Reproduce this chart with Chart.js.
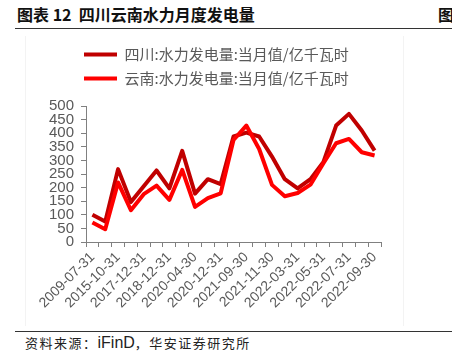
<!DOCTYPE html>
<html>
<head>
<meta charset="utf-8">
<title>四川云南水力月度发电量</title>
<script src="https://cdn.jsdelivr.net/npm/chart.js@4.4.1/dist/chart.umd.min.js"></script>
<style>
    html, body {
        margin: 0;
        padding: 0;
        background: #ffffff;
    }

    body {
        position: relative;
        width: 452px;
        height: 359px;
        overflow: hidden;
    }

    .report-title {
        position: absolute;
        left: 17px;
        top: 4px;
        font-family: "Noto Sans CJK SC", sans-serif;
        font-weight: bold;
        font-size: 16px;
        line-height: 20px;
        color: #111111;
        white-space: nowrap;
    }

    .report-title-next {
        position: absolute;
        left: 438px;
        top: 4px;
        font-family: "Noto Sans CJK SC", sans-serif;
        font-weight: bold;
        font-size: 16px;
        line-height: 20px;
        color: #111111;
    }

    .rule {
        position: absolute;
        left: 15px;
        width: 437px;
        height: 1px;
        background: #333333;
    }

    .frame-line {
        position: absolute;
        top: 36px;
        width: 1px;
        height: 290px;
        background: #f3f3f3;
    }

    .chart-wrap {
        position: absolute;
        left: 0;
        top: 38px;
        width: 452px;
        height: 290px;
    }

    .source {
        position: absolute;
        left: 25px;
        top: 334px;
        font-family: "Noto Sans CJK SC", sans-serif;
        font-size: 13px;
        letter-spacing: 1.5px;
        line-height: 18px;
        color: #222222;
        white-space: nowrap;
    }

    .source .latin {
        font-family: "Liberation Sans", Arial, sans-serif;
        font-size: 16px;
        letter-spacing: 0;
    }
</style>
</head>
<body>
<div class="report-title">图表 12&nbsp; 四川云南水力月度发电量</div>
<div class="report-title-next">图</div>
<div class="rule" style="top: 28px;"></div>
<div class="frame-line" style="left: 25px;"></div>
<div class="frame-line" style="left: 403px;"></div>
<div class="chart-wrap"><canvas id="hydro-chart"></canvas></div>
<div class="rule" style="top: 331px;"></div>
<div class="source">资料来源：<span class="latin">iFinD</span>，华安证券研究所</div>

<script>
var categories = [
    "2009-07-31", "2013-08-31", "2015-10-31", "2016-08-31", "2017-12-31", "2018-06-30",
    "2018-12-31", "2019-08-31", "2020-04-30", "2020-08-31", "2020-12-31", "2021-08-31",
    "2021-09-30", "2021-10-31", "2021-11-30", "2022-01-31", "2022-03-31", "2022-04-30",
    "2022-05-31", "2022-06-30", "2022-07-31", "2022-08-31", "2022-09-30"
];
var sichuanValues = [100, 75, 268, 147, 205, 263, 197, 335, 178, 231, 213, 388, 402, 388, 314, 231, 197, 231, 293, 428, 471, 410, 336];
var yunnanValues = [72, 47, 219, 117, 176, 207, 155, 265, 129, 161, 179, 375, 428, 342, 210, 168, 180, 211, 289, 363, 379, 330, 318];
var seriesNames = ["四川:水力发电量:当月值/亿千瓦时", "云南:水力发电量:当月值/亿千瓦时"];
var yTicks = [0, 50, 100, 150, 200, 250, 300, 350, 400, 450, 500];

(function () {
    "use strict";

    var axisColor = "#808080";
    var textColor = "#595959";
    var legendLeft = 75;
    var legendLift = 10;

    function legendLabels(chart) {
        var items = Chart.defaults.plugins.legend.labels.generateLabels(chart);

        items.forEach(function (item) {
            item.fillStyle = item.strokeStyle;
            item.lineWidth = 0;
        });

        return items;
    }

    // keep the legend where the report puts it, independent of the y axis width
    var legendPlacement = {
        id: "legendPlacement",
        afterLayout: function (chart) {
            if (!chart.legend) {
                return;
            }

            chart.legend.left = legendLeft;
            chart.legend.top -= legendLift;
        }
    };

    function buildChart() {
        var canvas = document.getElementById("hydro-chart");

        return new Chart(canvas.getContext("2d"), {
            type: "line",
            data: {
                labels: categories,
                datasets: [
                    {
                        label: seriesNames[0],
                        data: sichuanValues,
                        borderColor: "#C00000",
                        backgroundColor: "#C00000",
                        borderWidth: 4,
                        pointRadius: 0,
                        tension: 0,
                        borderJoinStyle: "round",
                        order: 1
                    },
                    {
                        label: seriesNames[1],
                        data: yunnanValues,
                        borderColor: "#FF0000",
                        backgroundColor: "#FF0000",
                        borderWidth: 4,
                        pointRadius: 0,
                        tension: 0,
                        borderJoinStyle: "round",
                        order: 0
                    }
                ]
            },
            plugins: [legendPlacement],
            options: {
                responsive: true,
                maintainAspectRatio: false,
                animation: false,
                events: [],
                layout: {
                    padding: {
                        left: 40,
                        right: 71,
                        top: legendLift,
                        bottom: 0
                    }
                },
                plugins: {
                    legend: {
                        display: true,
                        position: "top",
                        align: "start",
                        labels: {
                            boxWidth: 33,
                            boxHeight: 4,
                            padding: 9,
                            color: textColor,
                            font: {
                                family: "'Noto Sans CJK SC', sans-serif",
                                size: 15
                            },
                            generateLabels: legendLabels,
                            sort: function (a, b) {
                                return a.datasetIndex - b.datasetIndex;
                            }
                        }
                    },
                    tooltip: {
                        enabled: false
                    }
                },
                scales: {
                    x: {
                        offset: true,
                        grid: {
                            offset: true,
                            drawOnChartArea: false,
                            drawTicks: true,
                            tickLength: 5,
                            color: axisColor
                        },
                        border: {
                            display: true,
                            color: axisColor,
                            width: 1
                        },
                        ticks: {
                            autoSkip: false,
                            minRotation: 45,
                            maxRotation: 45,
                            padding: 2,
                            color: textColor,
                            font: {
                                family: "'Liberation Sans', Arial, sans-serif",
                                size: 14
                            },
                            callback: function (value, index) {
                                return index % 2 === 0 ? categories[index] : "";
                            }
                        },
                        afterFit: function (scale) {
                            scale.height = 86;
                            scale.paddingLeft = 0;
                            scale.paddingRight = 0;
                        }
                    },
                    y: {
                        min: 0,
                        max: 500,
                        afterBuildTicks: function (scale) {
                            scale.ticks = yTicks.map(function (v) {
                                return { value: v };
                            });
                        },
                        grid: {
                            drawOnChartArea: false,
                            drawTicks: true,
                            tickLength: 5,
                            color: axisColor
                        },
                        border: {
                            display: true,
                            color: axisColor,
                            width: 1
                        },
                        ticks: {
                            autoSkip: false,
                            padding: 7,
                            color: textColor,
                            font: {
                                family: "'Liberation Sans', Arial, sans-serif",
                                size: 15
                            }
                        },
                        afterFit: function (scale) {
                            scale.width = 46;
                        }
                    }
                }
            }
        });
    }

    buildChart();
})();
</script>
</body>
</html>
